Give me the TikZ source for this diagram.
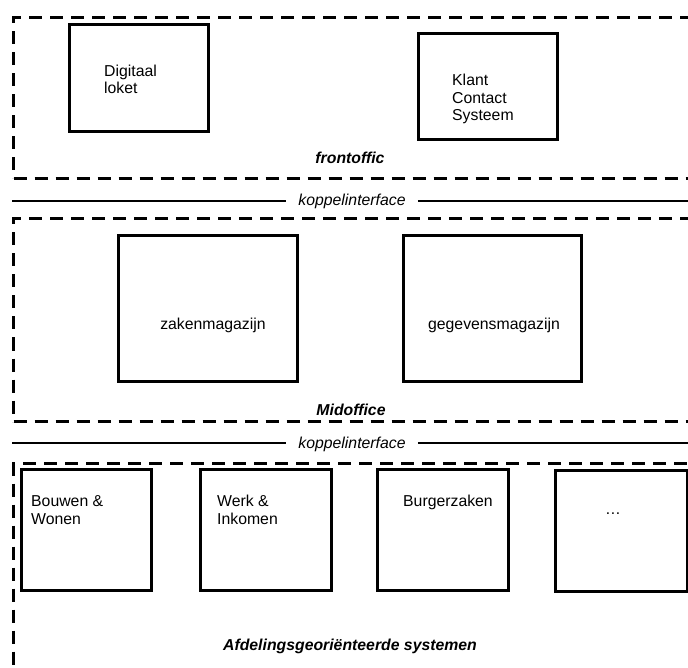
\documentclass[tikz,border=0pt]{standalone}
\usepackage{fontspec}
\setmainfont{Liberation Sans}
\usetikzlibrary{positioning}

\begin{document}
\begin{tikzpicture}[
    x=1pt, y=-1pt,
    font=\fontsize{15.8}{17.5}\selectfont,
    layer/.style={draw, line width=3pt, dash pattern=on 13pt off 8pt, anchor=north west, inner sep=0pt},
    sysbox/.style={draw, line width=3.2pt, anchor=north west, inner sep=0pt},
    boxtext/.style={anchor=base west, align=left, inner sep=0pt},
    layertitle/.style={anchor=base, inner sep=0pt, font=\fontsize{15.8}{17.5}\selectfont\bfseries\itshape},
    koppel/.style={anchor=base, inner xsep=12pt, inner ysep=0pt, font=\fontsize{15.8}{17.5}\selectfont\itshape},
    bus/.style={draw, line width=2.8pt}
]

\clip (0,0) rectangle (688,668);

% Layers
\node[layer, minimum width=700pt, minimum height=161pt] (front) at (12,16) {};
\node[layer, minimum width=700pt, minimum height=203pt] (mid) at (12,217) {};
\node[layer, minimum width=700pt, minimum height=260pt] (afd) at (12,462) {};

\node[layertitle] (frontTitle) at (350,164) {frontoffic};
\node[layertitle] (midTitle) at (351,415) {Midoffice};
\node[layertitle] (afdTitle) at (350,650) {Afdelingsgeoriënteerde systemen};

% Frontoffice systems (base = last line)
\node[sysbox, minimum width=139pt, minimum height=107pt] (loket) at (68,23) {};
\node[sysbox, minimum width=139pt, minimum height=106pt] (kcs) at (417,32) {};
\node[boxtext] (loketText) at (104,94) {Digitaal\\loket};
\node[boxtext] (kcsText) at (452,121) {Klant\\Contact\\Systeem};

% Midoffice systems
\node[sysbox, minimum width=179pt, minimum height=146pt] (zaken) at (117,234) {};
\node[sysbox, minimum width=178pt, minimum height=146pt] (gegevens) at (402,234) {};
\node[anchor=base, inner sep=0pt] (zakenText) at (213,330) {zakenmagazijn};
\node[anchor=base, inner sep=0pt] (gegevensText) at (494,330) {gegevensmagazijn};

% Afdelingssystemen
\node[sysbox, minimum width=130pt, minimum height=121pt] (bouwen) at (20,468) {};
\node[sysbox, minimum width=131pt, minimum height=121pt] (werk) at (199,468) {};
\node[sysbox, minimum width=131pt, minimum height=121pt] (burger) at (376,468) {};
\node[sysbox, minimum width=132pt, minimum height=121pt] (overig) at (554,469) {};
\node[boxtext] (bouwenText) at (31,524) {Bouwen \&\\Wonen};
\node[boxtext] (werkText) at (217,524) {Werk \&\\Inkomen};
\node[boxtext] (burgerText) at (403,506) {Burgerzaken};
\node[anchor=base, inner sep=0pt] (overigText) at (613,514) {…};

% Koppelinterfaces
\coordinate (busL1) at (12,201);
\coordinate (busR1) at (700,201);
\node[koppel] (koppel1) at (352,206) {koppelinterface};
\draw[bus] (busL1) -- (busL1 -| koppel1.west);
\draw[bus] (busR1 -| koppel1.east) -- (busR1);

\coordinate (busL2) at (12,443);
\coordinate (busR2) at (700,443);
\node[koppel] (koppel2) at (352,448) {koppelinterface};
\draw[bus] (busL2) -- (busL2 -| koppel2.west);
\draw[bus] (busR2 -| koppel2.east) -- (busR2);

\end{tikzpicture}
\end{document}
